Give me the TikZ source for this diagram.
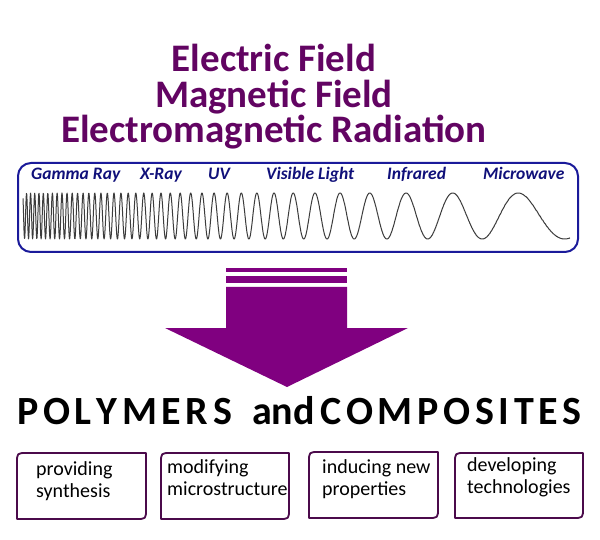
\documentclass[tikz,border=0pt]{standalone}
\usepackage{fontspec}
\setmainfont{Carlito}
\definecolor{titlepurple}{HTML}{620462}
\definecolor{specblue}{HTML}{10107A}
\definecolor{boxblue}{HTML}{1A1A9A}
\definecolor{arrowpurple}{HTML}{800080}
\definecolor{cardline}{HTML}{4B0A4B}
\definecolor{wavegray}{HTML}{3C3C3C}
\newcommand\lsp{\kern4.7pt}
\newcommand\twoln[2]{\vtop{\baselineskip=22pt\hbox{#1}\hbox{#2}}}
\newcommand\threeln[3]{\vtop{\baselineskip=35.5pt\lineskiplimit=-30pt\halign{\hfil##\hfil\cr #1\cr #2\cr #3\cr}}}
\tikzset{
  titletxt/.style={anchor=base, inner sep=0pt, text=titlepurple, font=\fontsize{39}{35.5}\selectfont\bfseries},
  speclabel/.style={anchor=base west, inner sep=0pt, text=specblue, font=\fontsize{17.5}{20}\selectfont\bfseries\itshape},
  bigtxt/.style={anchor=base west, inner sep=0pt, text=black, font=\fontsize{40}{44}\selectfont\bfseries},
  cardtxt/.style={anchor=base west, inner sep=0pt, text=black, font=\fontsize{20}{22}\selectfont},
  cardline/.style={draw=cardline, line width=1.8pt, line join=round},
  specbox/.style={draw=boxblue, line width=2pt, rounded corners=13pt},
  wave/.style={draw=wavegray, line width=1pt, line join=round},
}
\begin{document}
\begin{tikzpicture}[x=1pt, y=-1pt]
\useasboundingbox (0,0) rectangle (600,540);
\fill[white] (0,0) rectangle (600,540);

% titles
\node[titletxt] (title) at (274,72) {\threeln{Electric Field}{Magnetic Field}{Electromagnetic Radiation}};

% spectrum box
\draw[specbox] (18,163) rectangle (578,252);
\node[speclabel] (gamma) at (31,180) {Gamma Ray};
\node[speclabel] (xray) at (140,180) {X-Ray};
\node[speclabel] (uv) at (208,180) {UV};
\node[speclabel] (vis) at (266,180) {Visible Light};
\node[speclabel] (ir) at (387,180) {Infrared};
\node[speclabel] (mw) at (483,180) {Microwave};

% wave
\draw[wave] plot[domain=0:547, samples=1600, variable=\u]
  ({23+\u}, {216 - 23*cos(360*((1-exp(-0.00612*\u))/0.02387 - 39.89))});

% arrow
\fill[arrowpurple] (226,268) rectangle (347,272);
\fill[arrowpurple] (226,276) rectangle (347,283);
\fill[arrowpurple] (226,287) -- (347,287) -- (347,328) -- (408,328) -- (287,387) -- (165,328) -- (226,328) -- cycle;

% big title
\node[bigtxt] (p1) at (17,424) {P\lsp O\lsp L\lsp Y\lsp M\lsp E\lsp R\lsp S};
\node[bigtxt] (p2) at (252,424) {and};
\node[bigtxt] (p3) at (320,424) {C\lsp O\lsp M\lsp P\lsp O\lsp S\lsp I\lsp T\lsp E\lsp S};

% cards
\draw[cardline] (146,453) -- (27,453) .. controls (17,453) .. (17,463) -- (17,519) -- (136,519) .. controls (146,519) .. (146,509) -- cycle;
\draw[cardline] (289,453) -- (171,453) .. controls (161,453) .. (161,463) -- (161,519) -- (279,519) .. controls (289,519) .. (289,509) -- cycle;
\draw[cardline] (438,452) -- (319,452) .. controls (309,452) .. (309,462) -- (309,518) -- (428,518) .. controls (438,518) .. (438,508) -- cycle;
\draw[cardline] (583,453) -- (465,453) .. controls (455,453) .. (455,463) -- (455,518) -- (573,518) .. controls (583,518) .. (583,508) -- cycle;
\node[cardtxt] (c1) at (36,475) {\twoln{providing}{synthesis}};
\node[cardtxt] (c2) at (167,473) {\twoln{modifying}{microstructure}};
\node[cardtxt] (c3) at (322,473) {\twoln{inducing new}{properties}};
\node[cardtxt] (c4) at (467,471) {\twoln{developing}{technologies}};
\end{tikzpicture}
\end{document}
